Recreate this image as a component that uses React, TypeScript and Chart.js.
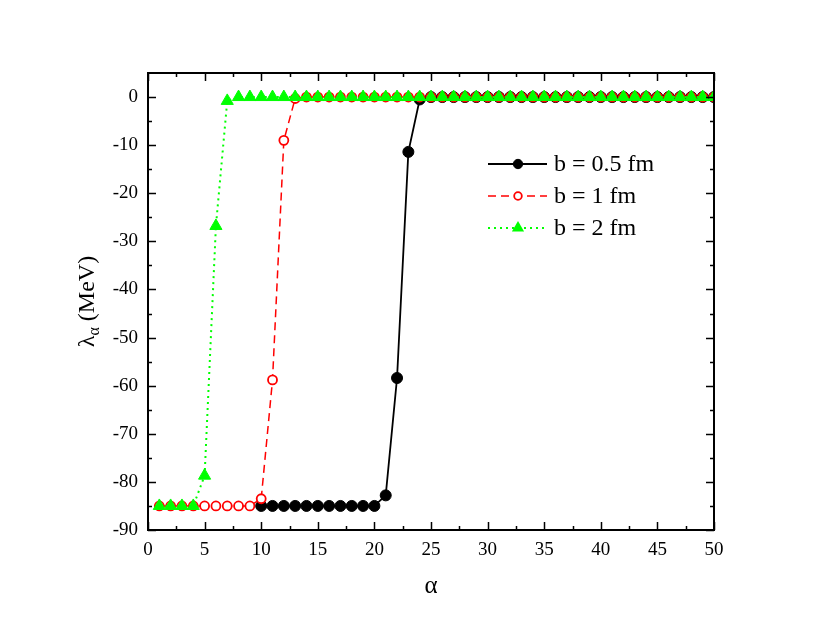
import React, { useEffect, useRef } from "react";
import { Chart, registerables } from "chart.js";

Chart.register(...registerables);

const alphaAll = [1, 2, 3, 4, 5, 6, 7, 8, 9, 10, 11, 12, 13, 14, 15, 16, 17, 18, 19, 20, 21, 22, 23, 24, 25, 26, 27, 28, 29, 30, 31, 32, 33, 34, 35, 36, 37, 38, 39, 40, 41, 42, 43, 44, 45, 46, 47, 48, 49, 50];
const alphaBlack = [10, 11, 12, 13, 14, 15, 16, 17, 18, 19, 20, 21, 22, 23, 24, 25, 26, 27, 28, 29, 30, 31, 32, 33, 34, 35, 36, 37, 38, 39, 40, 41, 42, 43, 44, 45, 46, 47, 48, 49, 50];
const lambdaBlack = [-85, -85, -85, -85, -85, -85, -85, -85, -85, -85, -85, -82.8, -58.4, -11.4, -0.5, 0, 0, 0, 0, 0, 0, 0, 0, 0, 0, 0, 0, 0, 0, 0, 0, 0, 0, 0, 0, 0, 0, 0, 0, 0, 0];
const lambdaRed = [-85, -85, -85, -85, -85, -85, -85, -85, -85, -83.5, -58.8, -9, -0.3, 0, 0, 0, 0, 0, 0, 0, 0, 0, 0, 0, 0, 0, 0, 0, 0, 0, 0, 0, 0, 0, 0, 0, 0, 0, 0, 0, 0, 0, 0, 0, 0, 0, 0, 0, 0, 0];
const lambdaGreen = [-85, -85, -85, -85, -78.7, -26.8, -0.8, 0, 0, 0, 0, 0, 0, 0, 0, 0, 0, 0, 0, 0, 0, 0, 0, 0, 0, 0, 0, 0, 0, 0, 0, 0, 0, 0, 0, 0, 0, 0, 0, 0, 0, 0, 0, 0, 0, 0, 0, 0, 0, 0];
const seriesLabels = ["b = 0.5 fm", "b = 1 fm", "b = 2 fm"];
const xTitle = "α";
const yTitleMain = "λ";
const yTitleSub = "α";
const yTitleUnit = " (MeV)";

const FONT = "'Liberation Serif', 'Times New Roman', serif";

const toPts = (xs: number[], ys: number[]) => xs.map((x, i) => ({ x, y: ys[i] }));

const framePlugin = {
  id: "frame",
  afterDraw(chart: any) {
    const ctx = chart.ctx;
    const { left, right, top, bottom } = chart.chartArea;
    const xs = chart.scales.x;
    const ys = chart.scales.y;
    ctx.save();
    ctx.strokeStyle = "#000";
    ctx.lineWidth = 2;
    ctx.strokeRect(left, top, right - left, bottom - top);
    ctx.lineWidth = 1.5;
    for (let v = 0; v <= 50.001; v += 2.5) {
      const px = Math.round(xs.getPixelForValue(v)) + 0.5;
      const major = Math.abs(v % 5) < 1e-6;
      const len = major ? 8 : 4;
      ctx.beginPath();
      ctx.moveTo(px, bottom);
      ctx.lineTo(px, bottom - len);
      ctx.moveTo(px, top);
      ctx.lineTo(px, top + len);
      ctx.stroke();
    }
    for (let v = -90; v <= 0.001; v += 5) {
      const py = Math.round(ys.getPixelForValue(v)) + 0.5;
      const major = Math.abs(v % 10) < 1e-6;
      const len = major ? 8 : 4;
      ctx.beginPath();
      ctx.moveTo(left, py);
      ctx.lineTo(left + len, py);
      ctx.moveTo(right, py);
      ctx.lineTo(right - len, py);
      ctx.stroke();
    }
    ctx.fillStyle = "#000";
    ctx.textAlign = "center";
    ctx.textBaseline = "middle";
    ctx.font = `25px ${FONT}`;
    ctx.fillText(xTitle, (left + right) / 2, 586);

    ctx.translate(86, (top + bottom) / 2);
    ctx.rotate(-Math.PI / 2);
    ctx.textBaseline = "alphabetic";
    ctx.textAlign = "left";
    ctx.font = `24px ${FONT}`;
    const w1 = ctx.measureText(yTitleMain).width;
    ctx.font = `16px ${FONT}`;
    const w2 = ctx.measureText(yTitleSub).width;
    ctx.font = `24px ${FONT}`;
    const w3 = ctx.measureText(yTitleUnit).width;
    const total = w1 + w2 + w3;
    const x0 = -total / 2;
    const base = 8;
    ctx.fillText(yTitleMain, x0, base);
    ctx.font = `16px ${FONT}`;
    ctx.fillText(yTitleSub, x0 + w1, base + 5);
    ctx.font = `24px ${FONT}`;
    ctx.fillText(yTitleUnit, x0 + w1 + w2, base);
    ctx.restore();

    ctx.save();
    const rows = [164, 196, 228];
    const order = [2, 1, 0];
    rows.forEach((ry, i) => {
      const ds = chart.data.datasets[order[i]];
      ctx.strokeStyle = ds.borderColor;
      ctx.lineWidth = ds.borderWidth;
      ctx.setLineDash(ds.borderDash || []);
      ctx.beginPath();
      ctx.moveTo(488, ry);
      ctx.lineTo(547, ry);
      ctx.stroke();
      ctx.setLineDash([]);
      const mx = 518;
      if (ds.pointStyle === "triangle") {
        const r = ds.pointRadius;
        ctx.fillStyle = ds.pointBackgroundColor;
        ctx.beginPath();
        ctx.moveTo(mx, ry - r);
        ctx.lineTo(mx + r * 0.87, ry + r * 0.5);
        ctx.lineTo(mx - r * 0.87, ry + r * 0.5);
        ctx.closePath();
        ctx.fill();
      } else {
        ctx.fillStyle = ds.pointBackgroundColor;
        ctx.strokeStyle = ds.pointBorderColor;
        ctx.lineWidth = ds.pointBorderWidth;
        ctx.beginPath();
        ctx.arc(mx, ry, ds.pointRadius * 0.85, 0, Math.PI * 2);
        ctx.fill();
        ctx.stroke();
      }
      ctx.fillStyle = "#000";
      ctx.font = `24px ${FONT}`;
      ctx.textAlign = "left";
      ctx.textBaseline = "middle";
      ctx.fillText(ds.label, 554, ry + 1);
    });
    ctx.restore();
  },
};

export default function App() {
  const ref = useRef<HTMLCanvasElement>(null);
  useEffect(() => {
    if (!ref.current) return;
    const chart = new Chart(ref.current, {
      type: "scatter",
      data: {
        datasets: [
          {
            label: seriesLabels[2],
            data: toPts(alphaAll, lambdaGreen),
            showLine: true,
            borderColor: "#00ff00",
            borderWidth: 2,
            borderDash: [2, 4],
            pointStyle: "triangle",
            pointRadius: 7,
            pointBackgroundColor: "#00ff00",
            pointBorderColor: "#00ff00",
            pointBorderWidth: 1,
            order: 0,
          },
          {
            label: seriesLabels[1],
            data: toPts(alphaAll, lambdaRed),
            showLine: true,
            borderColor: "#ff0000",
            borderWidth: 1.5,
            borderDash: [8, 5],
            pointStyle: "circle",
            pointRadius: 4.5,
            pointBackgroundColor: "#ffffff",
            pointBorderColor: "#ff0000",
            pointBorderWidth: 1.8,
            order: 1,
          },
          {
            label: seriesLabels[0],
            data: toPts(alphaBlack, lambdaBlack),
            showLine: true,
            borderColor: "#000000",
            borderWidth: 1.8,
            pointStyle: "circle",
            pointRadius: 5.5,
            pointBackgroundColor: "#000000",
            pointBorderColor: "#000000",
            pointBorderWidth: 1,
            order: 2,
          },
        ] as any,
      },
      options: {
        animation: false,
        responsive: false,
        maintainAspectRatio: false,
        layout: { padding: { left: 0, right: 116, top: 73, bottom: 0 } },
        plugins: { legend: { display: false }, tooltip: { enabled: false } },
        scales: {
          x: {
            type: "linear",
            min: 0,
            max: 50,
            grid: { display: false, drawTicks: false },
            border: { display: false },
            ticks: {
              stepSize: 5,
              includeBounds: false,
              color: "#000",
              padding: 9,
              maxRotation: 0,
              font: { family: FONT, size: 19 },
            },
            afterFit: (s: any) => {
              s.height = 106;
            },
          },
          y: {
            type: "linear",
            min: -90,
            max: 5,
            grid: { display: false, drawTicks: false },
            border: { display: false },
            ticks: {
              stepSize: 10,
              includeBounds: false,
              color: "#000",
              padding: 10,
              font: { family: FONT, size: 19 },
            },
            afterFit: (s: any) => {
              s.width = 148;
            },
          },
        },
      },
      plugins: [framePlugin],
    } as any);
    return () => chart.destroy();
  }, []);
  return (
    <div style={{ position: "fixed", left: 0, top: 0, width: 830, height: 636, background: "#fff" }}>
      <canvas ref={ref} width={830} height={636} />
    </div>
  );
}
